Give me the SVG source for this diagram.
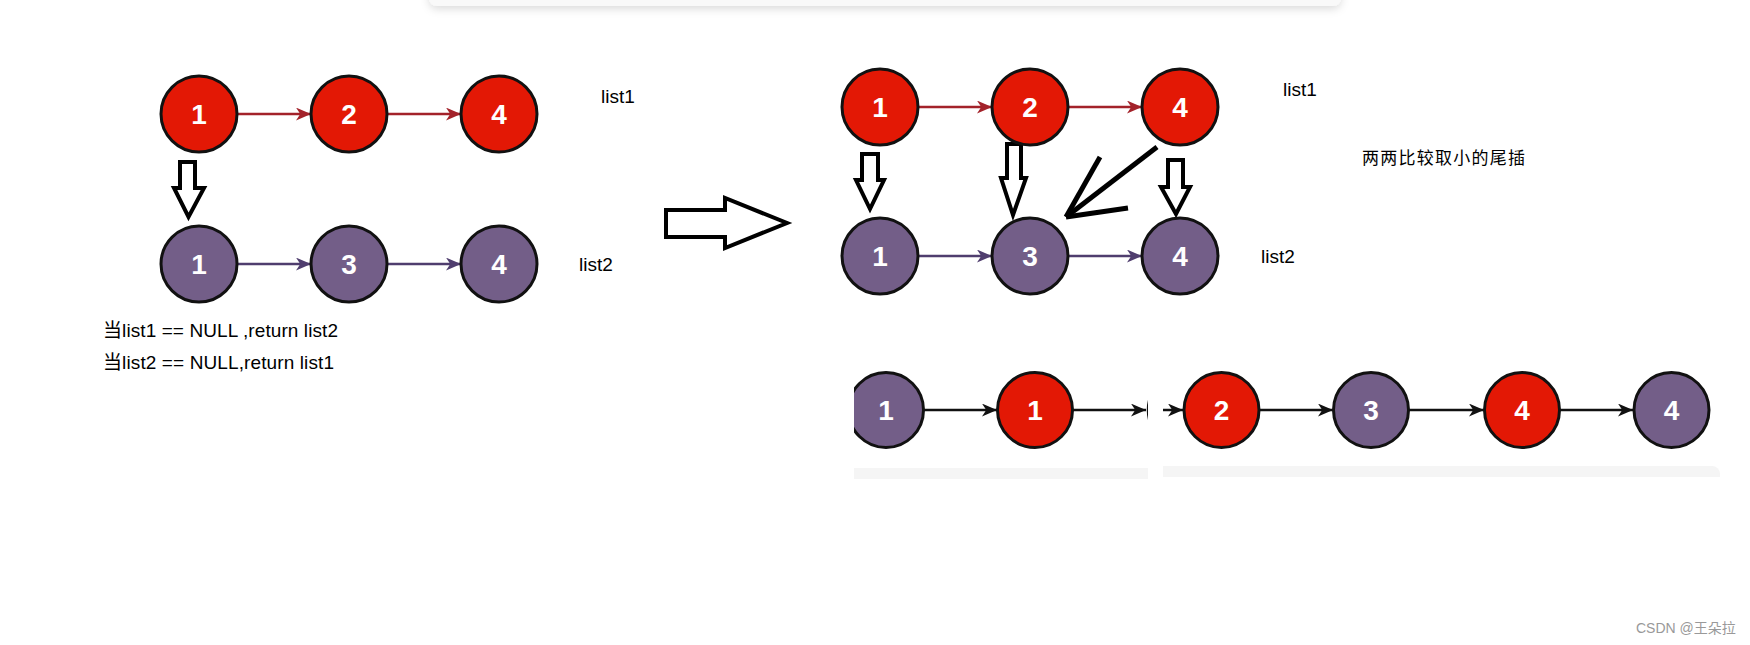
<svg xmlns="http://www.w3.org/2000/svg" width="1750" height="645" viewBox="0 0 1750 645">
<style>
.red{fill:#e31805;stroke:#111;stroke-width:3}
.pur{fill:#735e88;stroke:#111;stroke-width:3}
.num{font-family:"Liberation Sans",Arial,sans-serif;font-weight:bold;font-size:28px;fill:#fff;text-anchor:middle}
.lbl{font-family:"Liberation Sans","Noto Sans CJK SC",sans-serif;font-size:19px;fill:#000}
.cjk{font-family:"Noto Sans CJK SC",sans-serif;font-size:17px;fill:#000}
.hol{fill:#fff;stroke:#000;stroke-width:4;stroke-linejoin:miter}
.lr{stroke:#a3222a;stroke-width:2.5;fill:none}
.lp{stroke:#4f3d6e;stroke-width:2.5;fill:none}
.lk{stroke:#111;stroke-width:2.5;fill:none}
.v{stroke:#000;stroke-width:5;fill:none;stroke-linecap:butt}
</style>
<defs>
<marker id="mr" viewBox="0 0 14 12" markerWidth="15" markerHeight="13" refX="14" refY="6" orient="auto" markerUnits="userSpaceOnUse"><path d="M0,0 L14,6 L0,12 L4,6 Z" fill="#a3222a"/></marker>
<marker id="mp" viewBox="0 0 14 12" markerWidth="15" markerHeight="13" refX="14" refY="6" orient="auto" markerUnits="userSpaceOnUse"><path d="M0,0 L14,6 L0,12 L4,6 Z" fill="#4f3d6e"/></marker>
<marker id="mk" viewBox="0 0 14 12" markerWidth="15" markerHeight="13" refX="14" refY="6" orient="auto" markerUnits="userSpaceOnUse"><path d="M0,0 L14,6 L0,12 L4,6 Z" fill="#111"/></marker>
<filter id="sh" x="-5%" y="-100%" width="110%" height="300%"><feDropShadow dx="0" dy="3" stdDeviation="4" flood-color="#000" flood-opacity="0.14"/></filter>
<clipPath id="cl"><rect x="854" y="360" width="294" height="120"/></clipPath>
<clipPath id="cr"><rect x="1163" y="360" width="560" height="120"/></clipPath>
</defs>
<rect width="1750" height="645" fill="#fff"/>
<rect x="429" y="-20" width="912" height="26" rx="8" fill="#f9f9f9" filter="url(#sh)"/>

<g id="connectors">
<line class="lr" x1="237" y1="114" x2="311" y2="114" marker-end="url(#mr)"/>
<line class="lr" x1="387" y1="114" x2="461" y2="114" marker-end="url(#mr)"/>
<line class="lp" x1="237" y1="264" x2="311" y2="264" marker-end="url(#mp)"/>
<line class="lp" x1="387" y1="264" x2="461" y2="264" marker-end="url(#mp)"/>
<line class="lr" x1="918" y1="107" x2="992" y2="107" marker-end="url(#mr)"/>
<line class="lr" x1="1068" y1="107" x2="1142" y2="107" marker-end="url(#mr)"/>
<line class="lp" x1="918" y1="256" x2="992" y2="256" marker-end="url(#mp)"/>
<line class="lp" x1="1068" y1="256" x2="1142" y2="256" marker-end="url(#mp)"/>
<polygon class="hol" points="180,162 195,162 195,188 204,188 188.5,217 174,188 180,188"/>
<polygon class="hol" points="666,210 725,210 725,198 787,223 725,248 725,237 666,237"/>
<polygon class="hol" points="862,154 878,154 878,180 884,180 870,209 856,180 862,180"/>
<polygon class="hol" points="1007,144 1021,144 1021,178 1026,178 1013,215 1001,178 1007,178"/>
<polygon class="hol" points="1168,160 1183,160 1183,187 1190,187 1176,214 1161,187 1168,187"/>
<line class="v" x1="1157" y1="147" x2="1066" y2="217"/>
<line class="v" x1="1100" y1="157" x2="1066" y2="217"/>
<line class="v" x1="1128" y1="208" x2="1066" y2="217"/>
<g clip-path="url(#cl)">
<line class="lk" x1="924" y1="410" x2="997" y2="410" marker-end="url(#mk)"/>
<line class="lk" x1="1073" y1="410" x2="1146" y2="410" marker-end="url(#mk)"/>
</g>
<g clip-path="url(#cr)">
<line class="lk" x1="1160" y1="410" x2="1183" y2="410" marker-end="url(#mk)"/>
<line class="lk" x1="1260" y1="410" x2="1333" y2="410" marker-end="url(#mk)"/>
<line class="lk" x1="1409" y1="410" x2="1484" y2="410" marker-end="url(#mk)"/>
<line class="lk" x1="1560" y1="410" x2="1633" y2="410" marker-end="url(#mk)"/>
</g>
</g>

<g id="l1n1"><circle class="red" cx="199" cy="114" r="38"/><text class="num" x="199" y="124">1</text></g>
<g id="l1n2"><circle class="red" cx="349" cy="114" r="38"/><text class="num" x="349" y="124">2</text></g>
<g id="l1n4"><circle class="red" cx="499" cy="114" r="38"/><text class="num" x="499" y="124">4</text></g>
<g id="l2n1"><circle class="pur" cx="199" cy="264" r="38"/><text class="num" x="199" y="274">1</text></g>
<g id="l2n3"><circle class="pur" cx="349" cy="264" r="38"/><text class="num" x="349" y="274">3</text></g>
<g id="l2n4"><circle class="pur" cx="499" cy="264" r="38"/><text class="num" x="499" y="274">4</text></g>

<g id="r1n1"><circle class="red" cx="880" cy="107" r="38"/><text class="num" x="880" y="117">1</text></g>
<g id="r1n2"><circle class="red" cx="1030" cy="107" r="38"/><text class="num" x="1030" y="117">2</text></g>
<g id="r1n4"><circle class="red" cx="1180" cy="107" r="38"/><text class="num" x="1180" y="117">4</text></g>
<g id="r2n1"><circle class="pur" cx="880" cy="256" r="38"/><text class="num" x="880" y="266">1</text></g>
<g id="r2n3"><circle class="pur" cx="1030" cy="256" r="38"/><text class="num" x="1030" y="266">3</text></g>
<g id="r2n4"><circle class="pur" cx="1180" cy="256" r="38"/><text class="num" x="1180" y="266">4</text></g>

<g id="merged-left" clip-path="url(#cl)">
<circle class="pur" cx="886" cy="410" r="37.5"/><text class="num" x="886" y="420">1</text>
<circle class="red" cx="1035" cy="410" r="37.5"/><text class="num" x="1035" y="420">1</text>
<circle cx="1186" cy="410" r="38" fill="#7a1410" stroke="#111" stroke-width="2.5"/>
</g>
<g id="merged-right">
<g id="m2"><circle class="red" cx="1221.5" cy="410" r="37.5"/><text class="num" x="1221.5" y="420">2</text></g>
<g id="m3"><circle class="pur" cx="1371" cy="410" r="37.5"/><text class="num" x="1371" y="420">3</text></g>
<g id="m4a"><circle class="red" cx="1522" cy="410" r="37.5"/><text class="num" x="1522" y="420">4</text></g>
<g id="m4b"><circle class="pur" cx="1671.5" cy="410" r="37.5"/><text class="num" x="1671.5" y="420">4</text></g>
</g>
<rect x="854" y="468" width="294" height="11" fill="#f5f5f5"/>
<path d="M1163,466 H1712 A8,8 0 0 1 1720,474 V477 H1163 Z" fill="#f5f5f5"/>

<text class="lbl" x="601" y="103">list1</text>
<text class="lbl" x="579" y="271">list2</text>
<text class="lbl" x="103" y="337" textLength="235">当list1 == NULL ,return list2</text>
<text class="lbl" x="103" y="369" textLength="231">当list2 == NULL,return list1</text>
<text class="lbl" x="1283" y="96">list1</text>
<text class="lbl" x="1261" y="263">list2</text>
<text class="cjk" x="1362" y="164" textLength="163">两两比较取小的尾插</text>
<text x="1636" y="633" font-family="Liberation Sans,Noto Sans CJK SC,sans-serif" font-size="14" fill="#999">CSDN @王朵拉</text>
</svg>
